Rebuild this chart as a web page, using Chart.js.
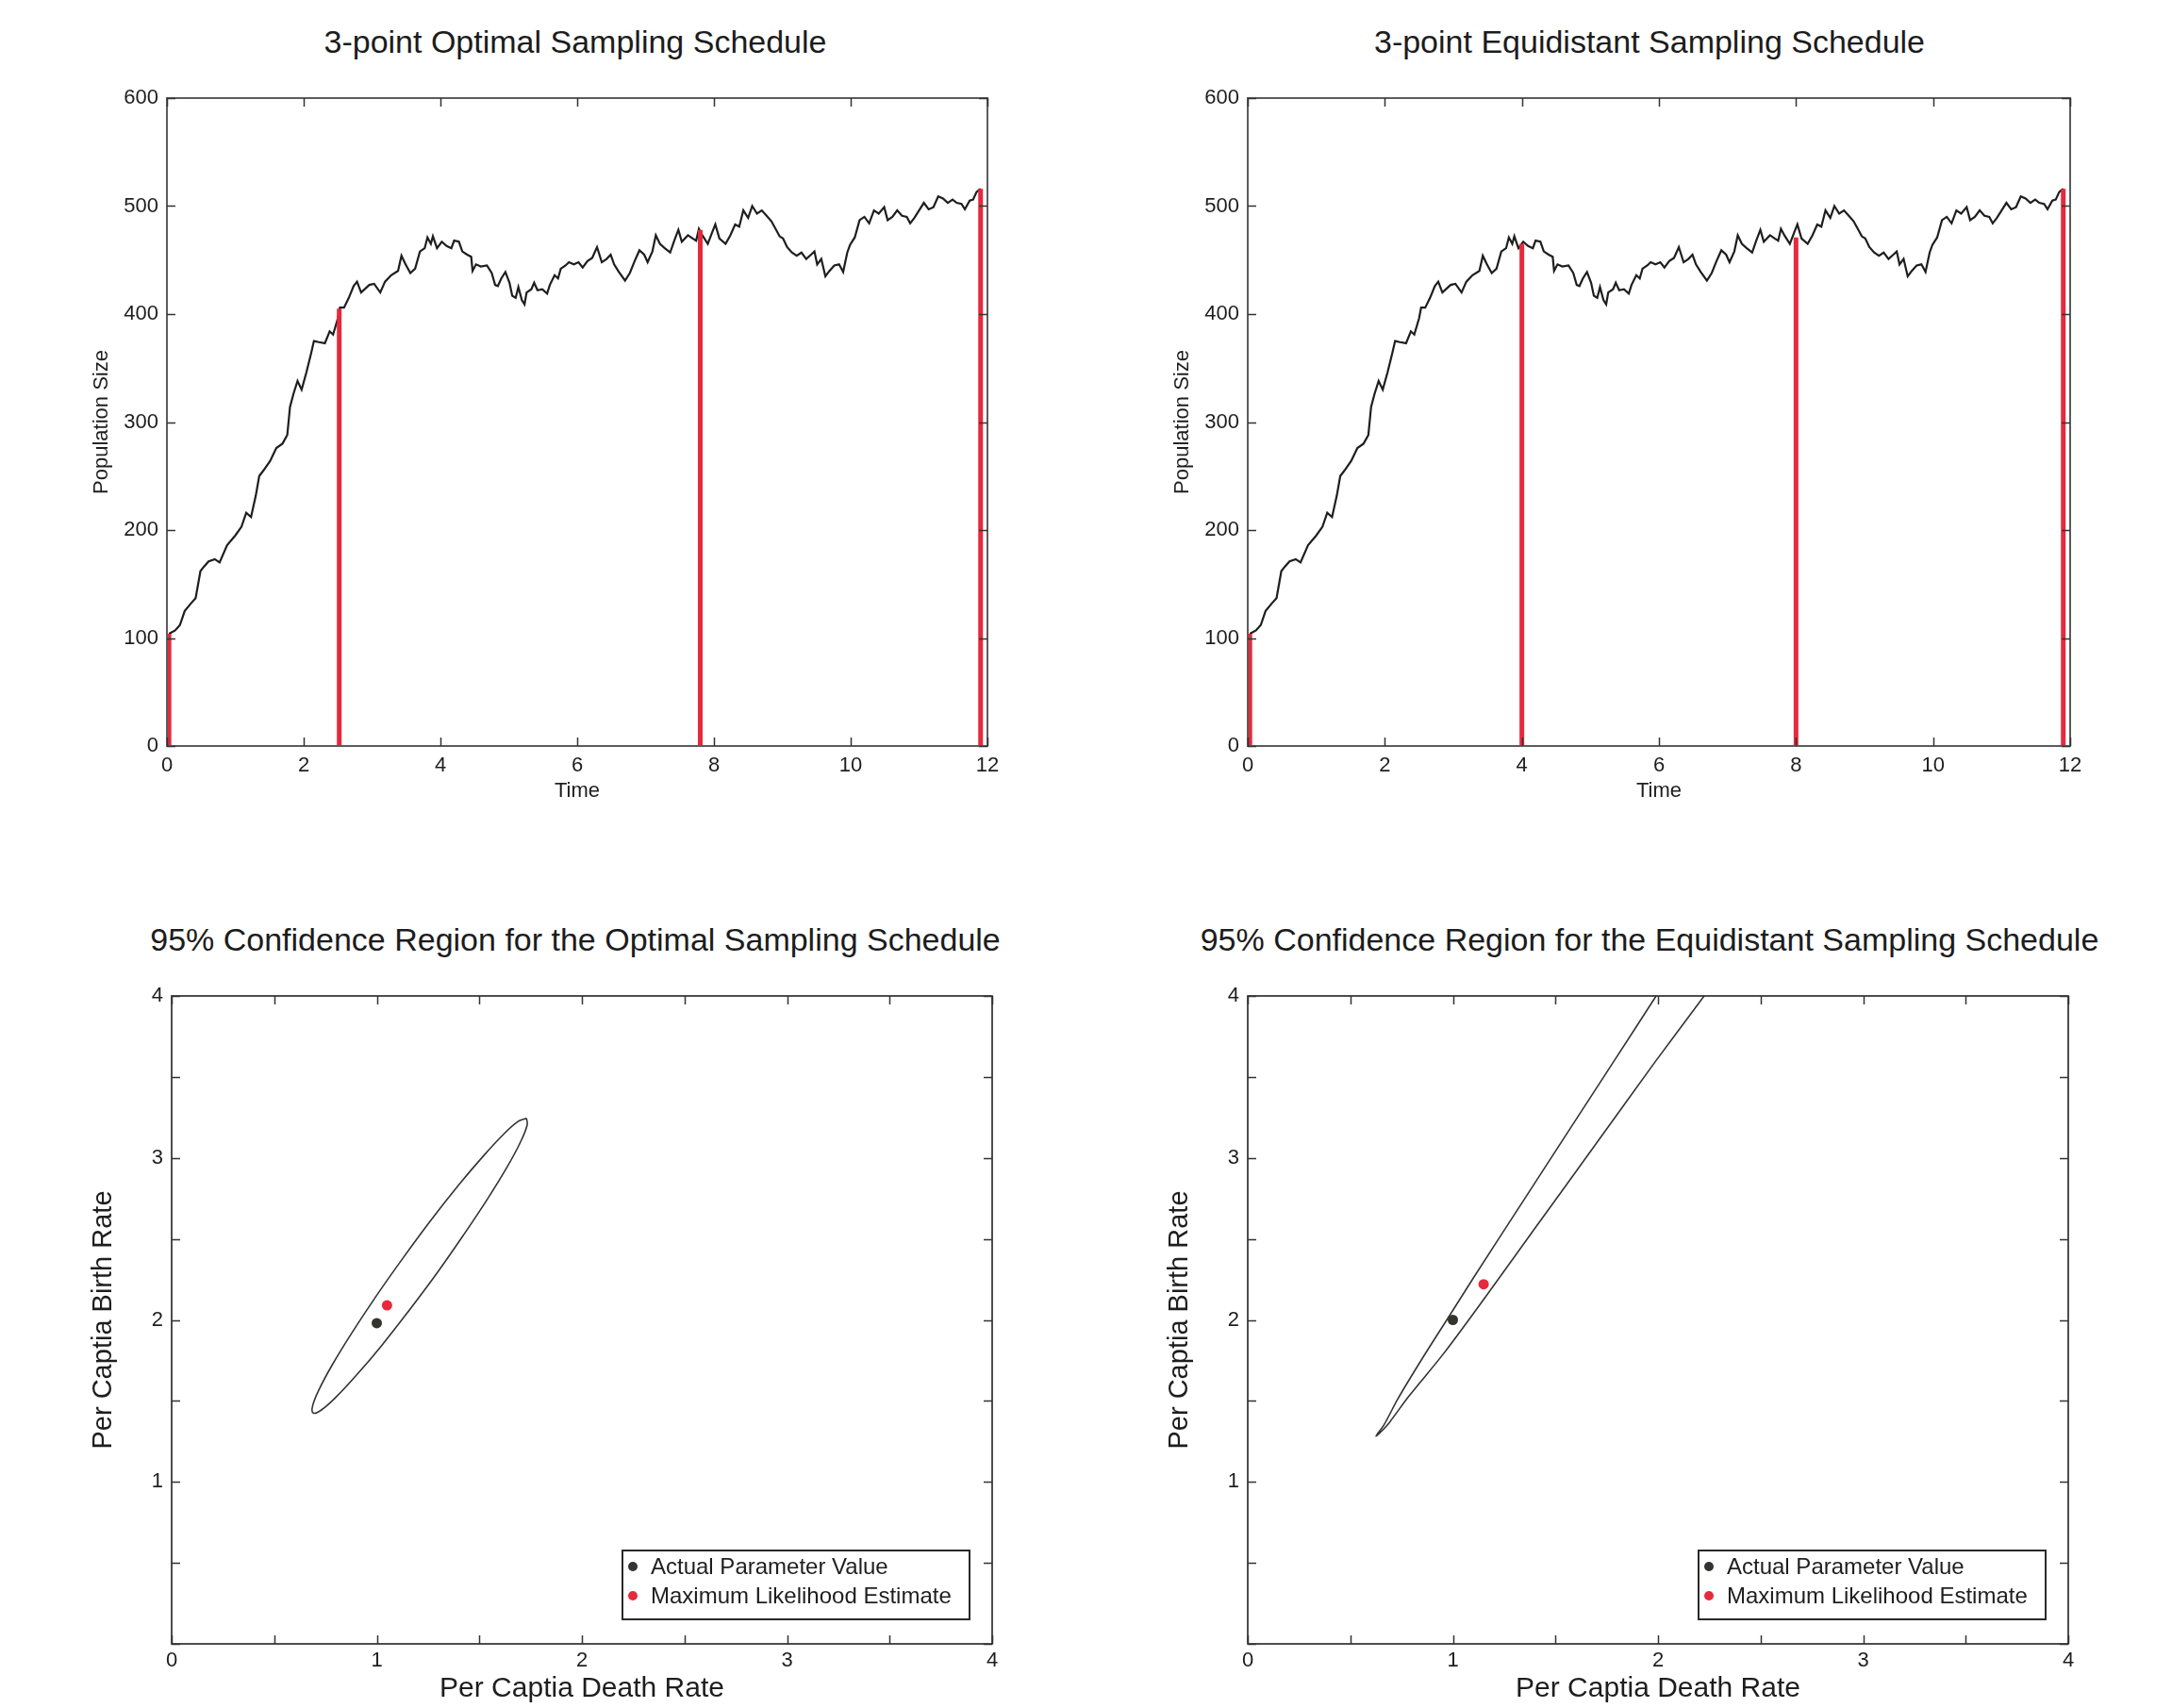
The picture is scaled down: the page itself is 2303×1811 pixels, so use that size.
<!DOCTYPE html>
<html>
<head>
<meta charset="utf-8">
<script src="https://cdn.jsdelivr.net/npm/chart.js@4.4.0/dist/chart.umd.min.js"></script>
<style>
  html, body { margin: 0; padding: 0; background: #fff; }
  body { width: 2303px; height: 1811px; position: relative; overflow: hidden; font-family: "Liberation Sans", Arial, sans-serif; }
  .panel { position: absolute; }
  .title { position: absolute; font-size: 34px; color: #1c1c1c; white-space: nowrap; transform: translate(-50%, -50%); }
</style>
</head>
<body>
<div class="title" style="left:610px;top:44px">3-point Optimal Sampling Schedule</div>
<div class="title" style="left:1749px;top:44px">3-point Equidistant Sampling Schedule</div>
<div class="title" style="left:610px;top:996px">95% Confidence Region for the Optimal Sampling Schedule</div>
<div class="title" style="left:1749px;top:996px">95% Confidence Region for the Equidistant Sampling Schedule</div>

<canvas id="c1" class="panel" width="1152" height="900" style="left:0;top:0"></canvas>
<canvas id="c2" class="panel" width="1157" height="900" style="left:1146px;top:0"></canvas>
<canvas id="c3" class="panel" width="1150" height="931" style="left:5px;top:880px"></canvas>
<canvas id="c4" class="panel" width="1157" height="931" style="left:1146px;top:880px"></canvas>

<script>
// simulated population path
const pathTime = [0.03,0.12,0.19,0.26,0.35,0.42,0.49,0.54,0.61,0.70,0.77,0.88,1.00,1.09,1.16,1.23,1.30,1.35,1.41,1.51,
  1.60,1.69,1.76,1.80,1.85,1.91,1.97,2.04,2.11,2.15,2.22,2.31,2.38,2.43,2.50,2.53,2.59,2.66,2.73,2.78,
  2.84,2.96,3.03,3.12,3.19,3.28,3.38,3.43,3.49,3.56,3.63,3.70,3.77,3.81,3.86,3.89,3.95,4.02,4.09,4.16,
  4.20,4.27,4.32,4.39,4.45,4.47,4.52,4.59,4.68,4.75,4.80,4.84,4.89,4.95,5.01,5.05,5.10,5.14,5.19,5.23,
  5.26,5.33,5.37,5.42,5.49,5.56,5.60,5.67,5.72,5.76,5.83,5.88,5.95,6.02,6.08,6.15,6.22,6.29,6.36,6.43,
  6.49,6.54,6.61,6.70,6.77,6.84,6.91,6.98,7.03,7.10,7.15,7.21,7.28,7.36,7.42,7.48,7.53,7.62,7.69,7.74,
  7.78,7.83,7.91,7.97,8.02,8.08,8.17,8.24,8.31,8.37,8.43,8.50,8.56,8.63,8.70,8.77,8.84,8.91,8.96,9.01,
  9.07,9.14,9.21,9.28,9.35,9.42,9.47,9.51,9.57,9.63,9.69,9.76,9.83,9.89,9.95,9.99,10.06,10.13,10.20,10.27,
  10.34,10.41,10.49,10.54,10.61,10.68,10.75,10.82,10.87,10.93,11.00,11.07,11.14,11.21,11.28,11.35,11.42,11.49,11.55,11.62,
  11.67,11.74,11.79,11.84,11.90];
const pathPop = [104,107,112,125,132,137,162,166,171,173,170,186,195,203,216,212,232,250,255,264,
  276,280,288,314,326,338,330,346,364,375,374,373,384,381,396,406,406,415,426,430,
  420,427,428,420,430,436,440,454,446,438,442,458,461,471,465,472,461,467,463,461,
  468,467,458,455,453,440,446,444,445,438,427,426,433,439,429,417,415,425,413,409,
  420,423,429,422,423,419,427,436,433,442,445,448,446,448,443,449,452,462,448,451,
  455,446,439,431,438,449,459,455,448,458,473,465,461,457,468,478,467,473,470,468,
  479,473,465,475,483,470,465,473,483,481,496,489,500,493,496,491,486,478,472,470,
  462,457,454,457,451,455,458,446,451,435,440,445,446,439,457,464,471,487,490,484,
  496,493,499,487,490,496,491,490,484,489,496,503,497,499,509,507,503,506,503,502,
  497,505,506,513,516];

// sampling times and sampled sizes
const optTimes = [0.03, 2.52, 7.8, 11.9];
const optValues = [104, 405, 478, 516];
const equiTimes = [0.03, 4.0, 8.0, 11.9];
const equiValues = [104, 465, 471, 516];

// confidence region outlines (death rate, birth rate)
const optEllipseDeath = [1.730,1.733,1.701,1.636,1.541,1.424,1.293,1.155,1.022,0.901,0.801,0.730,0.691,
  0.687,0.719,0.784,0.879,0.996,1.128,1.265,1.398,1.519,1.619,1.690,1.730];
const optEllipseBirth = [3.245,3.202,3.099,2.945,2.749,2.526,2.288,2.054,1.839,1.659,1.523,1.444,1.425,
  1.468,1.571,1.725,1.921,2.145,2.382,2.617,2.831,3.011,3.147,3.226,3.245];
const equiEllipseDeath = [1.991,1.798,1.571,1.337,1.103,0.985,0.852,0.732,0.664,0.634,0.626,
  0.650,0.690,0.785,0.956,1.162,1.397,1.692,1.986,2.225];
const equiEllipseBirth = [4.0,3.622,3.180,2.723,2.265,2.029,1.764,1.513,1.351,1.300,1.283,
  1.310,1.366,1.528,1.794,2.147,2.560,3.077,3.593,4.0];

// [optimal, equidistant]
const actualDeath = [1.0, 1.0];
const actualBirth = [1.98, 2.0];
const mleDeath = [1.05, 1.15];
const mleBirth = [2.09, 2.22];
const legendLabels = ['Actual Parameter Value', 'Maximum Likelihood Estimate'];

const RED = '#e52a3d';
const DARK = '#33332f';
const TEXT = '#1e1e1e';

Chart.defaults.font.family = "'Liberation Sans', Arial, sans-serif";
Chart.defaults.color = TEXT;

// box around the plot + inward tick marks on all four sides
const framePlugin = {
  id: 'frame',
  afterDraw(chart, args, opts) {
    const {ctx, chartArea: a} = chart;
    const x = chart.scales.x, y = chart.scales.y;
    ctx.save();
    ctx.strokeStyle = opts.color;
    ctx.lineWidth = opts.width;
    ctx.strokeRect(a.left, a.top, a.right - a.left, a.bottom - a.top);
    ctx.strokeStyle = opts.tickColor;
    ctx.lineWidth = opts.tickWidth;
    ctx.beginPath();
    x.ticks.forEach(function (t) {
      const px = Math.round(x.getPixelForValue(t.value)) + 0.5;
      ctx.moveTo(px, a.bottom); ctx.lineTo(px, a.bottom - opts.len);
      ctx.moveTo(px, a.top); ctx.lineTo(px, a.top + opts.len);
    });
    y.ticks.forEach(function (t) {
      const py = Math.round(y.getPixelForValue(t.value)) + 0.5;
      ctx.moveTo(a.left, py); ctx.lineTo(a.left + opts.len, py);
      ctx.moveTo(a.right, py); ctx.lineTo(a.right - opts.len, py);
    });
    ctx.stroke();
    ctx.restore();
  }
};

// boxed legend inside the bottom-right corner of the plot
const boxLegend = {
  id: 'boxLegend',
  afterDraw(chart, args, opts) {
    if (!opts.show) return;
    const {ctx, chartArea: a} = chart;
    const items = chart.data.datasets.filter(function (d) { return d.inLegend; });
    const bx = a.right - opts.right - opts.w;
    const by = a.bottom - opts.bottom - opts.h;
    ctx.save();
    ctx.fillStyle = '#fff';
    ctx.fillRect(bx, by, opts.w, opts.h);
    ctx.strokeStyle = '#2a2a2a';
    ctx.lineWidth = 2;
    ctx.strokeRect(bx, by, opts.w, opts.h);
    ctx.font = opts.font;
    ctx.textBaseline = 'middle';
    items.forEach(function (d, i) {
      const cy = by + opts.firstRow + i * opts.rowGap;
      ctx.fillStyle = d.backgroundColor;
      ctx.beginPath();
      ctx.arc(bx + 11, cy, 5, 0, Math.PI * 2);
      ctx.fill();
      ctx.fillStyle = TEXT;
      ctx.fillText(d.label, bx + 30, cy + 1);
    });
    ctx.restore();
  }
};

function topChart(id, stemT, stemV, rightPad) {
  const stemData = [];
  stemT.forEach(function (t, i) {
    stemData.push({x: t, y: 0}, {x: t, y: stemV[i]}, {x: t, y: null});
  });
  const pathData = pathTime.map(function (t, i) { return {x: t, y: pathPop[i]}; });
  return new Chart(document.getElementById(id), {
    type: 'scatter',
    data: {
      datasets: [
        {data: stemData, showLine: true, spanGaps: false, borderColor: RED, borderWidth: 5, pointRadius: 0},
        {data: pathData, showLine: true, borderColor: '#1e1e1e', borderWidth: 2.2, pointRadius: 0, tension: 0}
      ]
    },
    options: {
      responsive: false,
      animation: false,
      layout: {padding: {left: 0, top: 104, right: rightPad, bottom: 39}},
      plugins: {
        legend: {display: false},
        tooltip: {enabled: false},
        frame: {color: '#5c5c5c', width: 2, tickColor: '#333', tickWidth: 1.5, len: 9},
        boxLegend: {show: false}
      },
      scales: {
        x: {
          type: 'linear', min: 0, max: 12,
          grid: {display: false, drawTicks: false},
          border: {display: false},
          ticks: {stepSize: 2, padding: 8, font: {size: 22}, color: TEXT},
          title: {display: true, text: 'Time', font: {size: 22}, color: TEXT, padding: {top: 0, bottom: 9}},
          afterFit: function (s) { s.height = 70; }
        },
        y: {
          type: 'linear', min: 0, max: 600,
          grid: {display: false, drawTicks: false},
          border: {display: false},
          ticks: {stepSize: 100, padding: 9, font: {size: 22}, color: TEXT},
          title: {display: true, text: 'Population Size', font: {size: 22}, color: TEXT, padding: {top: 95, bottom: 0}},
          afterFit: function (s) { s.width = 177; }
        }
      }
    },
    plugins: [framePlugin, boxLegend]
  });
}

function regionChart(id, k, ellD, ellB, ellTension, rightPad) {
  const ell = ellD.map(function (d, i) { return {x: d, y: ellB[i]}; });
  return new Chart(document.getElementById(id), {
    type: 'scatter',
    data: {
      datasets: [
        {label: legendLabels[0], inLegend: true, data: [{x: actualDeath[k], y: actualBirth[k]}],
         backgroundColor: DARK, borderWidth: 0, pointRadius: 5.5},
        {label: legendLabels[1], inLegend: true, data: [{x: mleDeath[k], y: mleBirth[k]}],
         backgroundColor: RED, borderWidth: 0, pointRadius: 5.5},
        {data: ell, showLine: true, borderColor: '#333', borderWidth: 1.6, pointRadius: 0,
         tension: ellTension, capBezierPoints: false}
      ]
    },
    options: {
      responsive: false,
      animation: false,
      layout: {padding: {left: 0, top: 176, right: rightPad, bottom: 0}},
      plugins: {
        legend: {display: false},
        tooltip: {enabled: false},
        frame: {color: '#222', width: 1.6, tickColor: '#333', tickWidth: 1.5, len: 9},
        boxLegend: {show: true, w: 368, h: 73, right: 24, bottom: 26, firstRow: 17, rowGap: 31,
                    font: "24px 'Liberation Sans', Arial, sans-serif"}
      },
      scales: {
        x: {
          type: 'linear', min: 0, max: 4,
          grid: {display: false, drawTicks: false},
          border: {display: false},
          ticks: {stepSize: 0.5, autoSkip: false, padding: 5, font: {size: 22}, color: TEXT,
                  callback: function (v) { return Number.isInteger(v) ? v : ''; }},
          title: {display: true, text: 'Per Captia Death Rate', font: {size: 30}, color: TEXT, padding: {top: 0, bottom: 2}},
          afterFit: function (s) { s.height = 68; }
        },
        y: {
          type: 'linear', min: 0, max: 4,
          grid: {display: false, drawTicks: false},
          border: {display: false},
          ticks: {stepSize: 0.5, autoSkip: false, padding: 9, font: {size: 22}, color: TEXT,
                  callback: function (v) { return (Number.isInteger(v) && v !== 0) ? v : ''; }},
          title: {display: true, text: 'Per Captia Birth Rate', font: {size: 29}, color: TEXT, padding: {top: 88, bottom: 0}},
          afterFit: function (s) { s.width = 177; }
        }
      }
    },
    plugins: [framePlugin, boxLegend]
  });
}

topChart('c1', optTimes, optValues, 105);
topChart('c2', equiTimes, equiValues, 108);
regionChart('c3', 0, optEllipseDeath, optEllipseBirth, 0.4, 103);
regionChart('c4', 1, equiEllipseDeath, equiEllipseBirth, 0.3, 110);
</script>
</body>
</html>
